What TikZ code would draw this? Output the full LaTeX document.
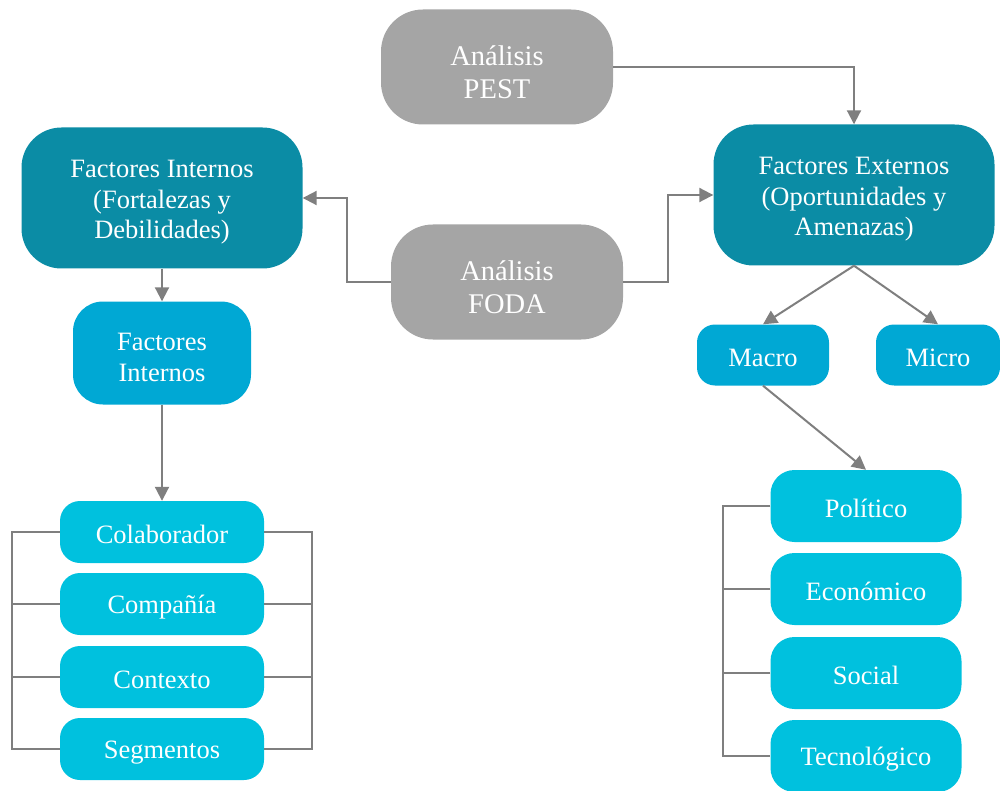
\documentclass[tikz,border=0pt]{standalone}
\usepackage{fontspec}
\setmainfont{Liberation Serif}
\usetikzlibrary{arrows.meta}
\definecolor{grayb}{HTML}{A5A5A5}
\definecolor{darkb}{HTML}{0B8CA5}
\definecolor{midb}{HTML}{00A8D4}
\definecolor{lightb}{HTML}{00C1DE}
\definecolor{conn}{HTML}{7F7F7F}
\tikzset{
  box/.style={draw=none, text=white, inner sep=0pt, align=center, font=\fontsize{26.5}{30.5}\selectfont},
  graybox/.style={box, fill=grayb, rounded corners=42pt, minimum width=232pt, minimum height=115pt, font=\fontsize{28.5}{33}\selectfont},
  darkbox/.style={box, fill=darkb, rounded corners=40pt, minimum width=281pt, minimum height=141pt},
  midbox/.style={box, fill=midb},
  lightbox/.style={box, fill=lightb},
  conline/.style={draw=conn, line width=2pt},
  arr/.style={conline, -{Triangle[length=14pt, width=14pt]}}
}
\begin{document}
\begin{tikzpicture}[x=1pt, y=-1pt]
\useasboundingbox (0,0) rectangle (1000,791);
% nodes
\node[graybox] (pest) at (497,67) {\rule{0pt}{30pt}Análisis\\PEST};
\node[graybox] (foda) at (507,282) {\rule{0pt}{30pt}Análisis\\FODA};
\node[darkbox] (fi) at (162,198) {\rule{0pt}{26pt}Factores Internos\\(Fortalezas y\\Debilidades)};
\node[darkbox] (fe) at (854,195) {\rule{0pt}{26pt}Factores Externos\\(Oportunidades y\\Amenazas)};
\node[midbox, rounded corners=30pt, minimum width=178pt, minimum height=103pt] (fis) at (162,353) {\rule{0pt}{26pt}Factores\\Internos};
\node[midbox, rounded corners=18pt, minimum width=132pt, minimum height=61pt] (macro) at (763,355) {\rule{0pt}{24pt}Macro};
\node[midbox, rounded corners=18pt, minimum width=124pt, minimum height=61pt] (micro) at (938,355) {\rule{0pt}{24pt}Micro};
\node[lightbox, rounded corners=20pt, minimum width=204pt, minimum height=62pt] (col) at (162,532) {\rule{0pt}{24pt}Colaborador};
\node[lightbox, rounded corners=20pt, minimum width=204pt, minimum height=62pt] (com) at (162,604) {\rule{0pt}{24pt}Compañía};
\node[lightbox, rounded corners=20pt, minimum width=204pt, minimum height=62pt] (con) at (162,677) {\rule{0pt}{24pt}Contexto};
\node[lightbox, rounded corners=20pt, minimum width=204pt, minimum height=62pt] (seg) at (162,749) {\rule{0pt}{24pt}Segmentos};
\node[lightbox, rounded corners=24pt, minimum width=191pt, minimum height=72pt] (pol) at (866,506) {\rule{0pt}{24pt}Político};
\node[lightbox, rounded corners=24pt, minimum width=191pt, minimum height=72pt] (eco) at (866,589) {\rule{0pt}{24pt}Económico};
\node[lightbox, rounded corners=24pt, minimum width=191pt, minimum height=72pt] (soc) at (866,673) {\rule{0pt}{24pt}Social};
\node[lightbox, rounded corners=24pt, minimum width=191pt, minimum height=72pt] (tec) at (866,756) {\rule{0pt}{24pt}Tecnológico};
% connectors
\draw[arr] (pest.east) -| (fe.north);
\draw[arr] (foda.west) -- (347,282) |- (fi.east);
\draw[arr] (foda.east) -- (668,282) |- (fe.west);
\draw[arr] (fi.south) -- (fis.north);
\draw[arr] (fis.south) -- (col.north);
\draw[arr] (fe.south) -- (macro.north);
\draw[arr] (fe.south) -- (micro.north);
\draw[arr] (macro.south) -- (pol.north);
% left brackets
\draw[conline] (col.west) -- (12,532) |- (seg.west);
\draw[conline] (com.west) -- (12,604);
\draw[conline] (con.west) -- (12,677);
\draw[conline] (col.east) -- (312,532) |- (seg.east);
\draw[conline] (com.east) -- (312,604);
\draw[conline] (con.east) -- (312,677);
% right group bracket
\draw[conline] (pol.west) -- (723,506) |- (tec.west);
\draw[conline] (eco.west) -- (723,589);
\draw[conline] (soc.west) -- (723,673);
\end{tikzpicture}
\end{document}
